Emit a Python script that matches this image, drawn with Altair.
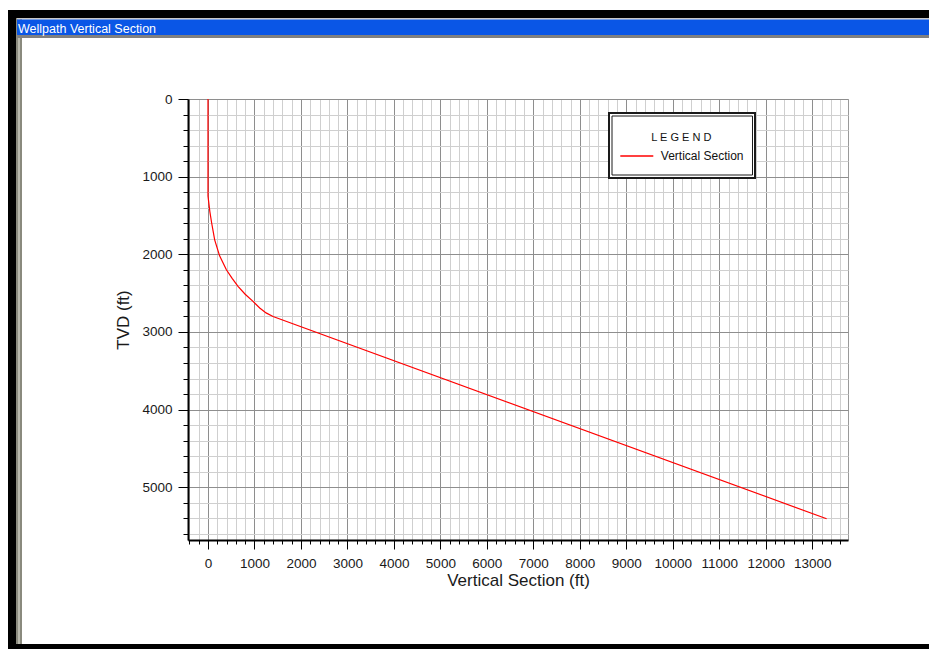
import altair as alt
import pandas as pd

# ---- data ----
vs_ft = [0, 0, 10, 40, 80, 144, 250, 396, 520, 646, 800, 969, 1113, 1250, 1399, 13310]
tvd_ft = [0, 1250, 1300, 1450, 1600, 1814, 2020, 2200, 2310, 2414, 2515, 2607, 2692, 2755, 2801, 5407]
series_name = "Vertical Section"
window_title = "Wellpath Vertical Section"
x_title = "Vertical Section (ft)"
y_title = "TVD (ft)"
legend_title = "L E G E N D"
x_ticks = list(range(-400, 13601, 200))
y_ticks = list(range(0, 5601, 200))

FONT = "Liberation Sans"
df = pd.DataFrame({"vs": vs_ft, "tvd": tvd_ft, "series": series_name})
dummy = alt.Data(values=[{"k": 0}])

major = "datum.value % 1000 === 0"


def box(x1, x2, y1, y2, fill, stroke=None, sw=0, fo=1):
    kw = dict(fill=fill, fillOpacity=fo)
    if stroke:
        kw.update(stroke=stroke, strokeWidth=sw)
    return alt.Chart(dummy).mark_rect(**kw).encode(
        x=alt.value(x1), x2=alt.value(x2), y=alt.value(y1), y2=alt.value(y2)
    )


# window chrome (plot-area pixel coordinates)
chrome = [
    box(-180, 741, -89, -81, "#000000"),
    box(-180, -172, -89, 550, "#000000"),
    box(-180, 741, 545, 550, "#000000"),
    box(-172, -166, -81, 545, "#8a8a7e"),
    box(-170, -168, -81, 545, "#b8b8ac"),
    box(-171, 741, -81, -79.5, "#c8c8c8"),
    box(-171, 741, -79.5, -64, "#0a56e6"),
    box(-171, 741, -64, -61, "#808080"),
]

title_text = alt.Chart(dummy).mark_text(
    text=window_title, font=FONT, fontSize=12.5, color="white",
    align="left", baseline="alphabetic"
).encode(x=alt.value(-170), y=alt.value(-66.5))

legend_boxes = [
    box(421, 567, 14, 79, "white", "#1a1a1a", 2),
    box(424, 564.5, 17, 76, "white", "#1a1a1a", 1, 0),
]

x_axis = alt.Axis(
    values=x_ticks, format="d",
    labelExpr=f"{major} ? datum.label : ''",
    grid=True,
    gridColor={"condition": {"test": major, "value": "#8e8e8e"}, "value": "#cfcfcf"},
    gridWidth=1,
    tickSize={"condition": {"test": major, "value": 9}, "value": 4},
    tickColor="#000000", tickWidth=1,
    domainColor="#000000", domainWidth=2,
    labelFont=FONT, labelFontSize=13.5, labelColor="#1a1a1a",
    labelPadding=7, labelOverlap=False, labelFlush=False, labelBound=False,
    title=x_title, titleFont=FONT, titleFontSize=17, titleFontWeight="normal",
    titleColor="#1a1a1a", titlePadding=3,
)

y_axis = alt.Axis(
    values=y_ticks, format="d",
    labelExpr=f"{major} ? datum.label : ''",
    grid=True,
    gridColor={"condition": {"test": major, "value": "#8e8e8e"}, "value": "#cfcfcf"},
    gridWidth=1,
    tickSize={"condition": {"test": major, "value": 10}, "value": 5},
    tickColor="#000000", tickWidth=1,
    domainColor="#000000", domainWidth=2,
    labelFont=FONT, labelFontSize=13.5, labelColor="#1a1a1a",
    labelPadding=6, labelOverlap=False, labelBound=False,
    title=y_title, titleFont=FONT, titleFontSize=17, titleFontWeight="normal",
    titleColor="#1a1a1a", titlePadding=9,
)

line = alt.Chart(df).mark_line(strokeWidth=1.2).encode(
    x=alt.X("vs:Q", scale=alt.Scale(domain=[-430, 13770], nice=False, zero=False), axis=x_axis),
    y=alt.Y("tvd:Q", scale=alt.Scale(domain=[0, 5680], nice=False, zero=False, reverse=True), axis=y_axis),
    order=alt.Order("vs:Q"),
    color=alt.Color(
        "series:N",
        scale=alt.Scale(domain=[series_name], range=["#ff0000"]),
        legend=alt.Legend(
            orient="none", legendX=431.3, legendY=32.5,
            title=legend_title, titleAnchor="middle", titleFont=FONT,
            titleFontSize=11, titleFontWeight="normal", titleColor="#111111",
            titlePadding=-4,
            labelFont=FONT, labelFontSize=12, labelColor="#111111", labelOffset=6.5,
            symbolType="stroke", symbolSize=1089, symbolStrokeWidth=1.4,
            symbolStrokeColor="#ff0000",
            padding=0, rowPadding=0,
        ),
    ),
)

chart = alt.layer(*chrome, title_text, *legend_boxes, line).properties(
    width=660, height=441,
    padding={"left": 180, "top": 91, "right": 81, "bottom": 109},
    autosize=alt.AutoSizeParams(type="none"),
    background="white",
).configure_view(stroke="#9a9a9a", strokeWidth=1)

chart.save("out.html", embed_options={"renderer": "svg", "actions": False})
